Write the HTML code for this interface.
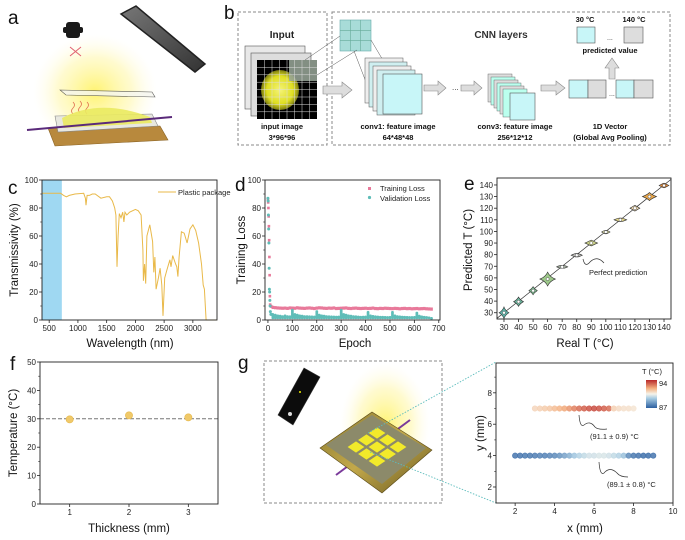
<!DOCTYPE html>
<html><head><meta charset="utf-8">
<style>
html,body{margin:0;padding:0;background:#fff;}
svg{display:block;font-family:"Liberation Sans",Arial,sans-serif;}
.tk{font-size:8px;fill:#222;}
.at{font-size:11.5px;fill:#111;}
.pl{font-size:19px;fill:#111;}
.sm{font-size:7.5px;fill:#222;}
.bd{font-size:7.5px;fill:#111;font-weight:bold;}
</style></head>
<body>
<svg id="fig" width="685" height="540" viewBox="0 0 685 540">
<defs>
<radialGradient id="glow" cx="50%" cy="50%" r="50%"><stop offset="0" stop-color="#fff36a" stop-opacity="0.95"/><stop offset="0.6" stop-color="#fff6a0" stop-opacity="0.5"/><stop offset="1" stop-color="#fffbe0" stop-opacity="0"/></radialGradient>
<radialGradient id="blob" cx="50%" cy="50%" r="50%"><stop offset="0" stop-color="#f4f37a"/><stop offset="0.7" stop-color="#dede20"/><stop offset="1" stop-color="#7a7a10"/></radialGradient>
<linearGradient id="cbar" x1="0" y1="1" x2="0" y2="0"><stop offset="0" stop-color="#2c5fa0"/><stop offset="0.35" stop-color="#a9cde3"/><stop offset="0.5" stop-color="#f5f3ea"/><stop offset="0.7" stop-color="#f4b080"/><stop offset="1" stop-color="#b8282a"/></linearGradient>
<linearGradient id="phone" x1="0" y1="0" x2="1" y2="1"><stop offset="0" stop-color="#777"/><stop offset="1" stop-color="#333"/></linearGradient>
<linearGradient id="gold" x1="0" y1="0" x2="1" y2="1"><stop offset="0" stop-color="#8a7a30"/><stop offset="0.5" stop-color="#c2a84a"/><stop offset="1" stop-color="#6a5a20"/></linearGradient>
</defs>

<!-- Panel a -->
<g>
<text class="pl" x="8" y="24">a</text>
<ellipse cx="95" cy="92" rx="62" ry="58" fill="url(#glow)"/>
<rect x="66" y="22" width="14" height="16" rx="3" fill="#1a1a1a"/>
<rect x="63" y="27" width="20" height="6" rx="2" fill="#1a1a1a"/>
<path d="M70 47 L81 56 M81 47 L70 56" stroke="#e06070" stroke-width="1"/>
<polygon points="121,14 136,6 205,64 195,72" fill="url(#phone)" stroke="#222" stroke-width="1.5"/>
<polygon points="60,90 152,92 155,97 66,95" fill="#f6f6f0" stroke="#333" stroke-width="0.6" opacity="0.8"/>
<path d="M73 102 q3 3 0 6 q-3 3 0 6 M80 101 q3 3 0 6 q-3 3 0 6 M87 102 q3 3 0 6 q-3 3 0 6" stroke="#e07050" fill="none" stroke-width="0.8"/>
<polygon points="48,128 160,126 168,140 55,146" fill="#b8893d" stroke="#8a6325" stroke-width="0.6"/>
<polygon points="55,116 152,114 158,126 58,132" fill="#e8e8e0" stroke="#888" stroke-width="0.6"/>
<path d="M62 118 Q100 98 150 117 L152 123 L64 128 Z" fill="#eaea60" opacity="0.9"/>
<line x1="27" y1="130" x2="172" y2="117" stroke="#5a2a7a" stroke-width="2"/>
</g>

<!-- Panel b -->
<g>
<text class="pl" x="224" y="19">b</text>
<rect x="238" y="12" width="89" height="133" fill="none" stroke="#888" stroke-dasharray="3,2"/>
<rect x="332" y="12" width="338" height="133" fill="none" stroke="#888" stroke-dasharray="3,2"/>
<text x="282" y="38" font-size="10" font-weight="bold" text-anchor="middle" fill="#222">Input</text>
<text x="501" y="38" font-size="10" font-weight="bold" text-anchor="middle" fill="#333">CNN layers</text>
<rect x="245" y="46" width="60" height="63" fill="#e8e8e8" stroke="#555" stroke-width="0.6"/>
<rect x="251" y="53" width="60" height="63" fill="#ddd" stroke="#555" stroke-width="0.6"/>
<g>
<rect x="257" y="60" width="60" height="59" fill="#000"/>
<ellipse cx="280" cy="90" rx="19" ry="20" fill="url(#blob)"/>
<rect x="289" y="60" width="28" height="21" fill="#9aa89a" opacity="0.85"/>
<path d="M264.5 60V119M272 60V119M279.5 60V119M287 60V119M294.5 60V119M302 60V119M309.5 60V119M257 67.4H317M257 74.8H317M257 82.2H317M257 89.6H317M257 97H317M257 104.4H317M257 111.8H317" stroke="#ddd" stroke-width="0.5"/>
</g>
<text class="bd" x="282" y="129" text-anchor="middle">input image</text>
<text class="bd" x="282" y="140" text-anchor="middle">3*96*96</text>
<rect x="340" y="20" width="31" height="31" fill="#a8dcd8" stroke="#6aa" stroke-width="0.6"/>
<path d="M350.3 20V51M360.6 20V51M340 30.3H371M340 40.6H371" stroke="#6a9" stroke-width="0.6"/>
<path d="M305 60 L340 36 M317 75 L357 50 M371 40 L384 62 M354 51 L366 82" stroke="#555" stroke-width="0.5" fill="none"/>
<g>
<rect x="365" y="58" width="38" height="45" fill="#eee" stroke="#555" stroke-width="0.5"/>
<rect x="369" y="62" width="38" height="45" fill="#cfeff0" stroke="#555" stroke-width="0.5"/>
<rect x="373" y="66" width="38" height="45" fill="#eee" stroke="#555" stroke-width="0.5"/>
<rect x="377" y="70" width="38" height="45" fill="#cfeff0" stroke="#555" stroke-width="0.5"/>
<rect x="383" y="74" width="39" height="40" fill="#c8f6f8" stroke="#555" stroke-width="0.6"/>
</g>
<text class="bd" x="398" y="129" text-anchor="middle">conv1: feature image</text>
<text class="bd" x="398" y="140" text-anchor="middle">64*48*48</text>
<g fill="#ddd" stroke="#888" stroke-width="0.6">
<polygon points="323,86 342,86 342,82 352,90 342,98 342,94 323,94"/>
<polygon points="424,85 438,85 438,81 446,88 438,95 438,91 424,91"/>
<polygon points="461,85 474,85 474,81 482,88 474,95 474,91 461,91"/>
<polygon points="541,85 556,85 556,81 565,88 556,95 556,91 541,91"/>
<polygon points="609,79 609,68 605,68 612,58 619,68 615,68 615,79"/>
</g>
<text x="452" y="90" font-size="8" fill="#333">...</text>
<g>
<rect x="488" y="74" width="24" height="28" fill="#ddd" stroke="#555" stroke-width="0.4"/>
<rect x="491" y="77" width="24" height="28" fill="#bfe" stroke="#555" stroke-width="0.4"/>
<rect x="494" y="80" width="24" height="28" fill="#ddd" stroke="#555" stroke-width="0.4"/>
<rect x="497" y="83" width="24" height="28" fill="#bfe" stroke="#555" stroke-width="0.4"/>
<rect x="500" y="86" width="24" height="28" fill="#ddd" stroke="#555" stroke-width="0.4"/>
<rect x="503" y="89" width="24" height="28" fill="#bfe" stroke="#555" stroke-width="0.4"/>
<rect x="510" y="93" width="25" height="27" fill="#c8f6f8" stroke="#555" stroke-width="0.6"/>
</g>
<text class="bd" x="515" y="129" text-anchor="middle">conv3: feature image</text>
<text class="bd" x="515" y="140" text-anchor="middle">256*12*12</text>
<g stroke="#555" stroke-width="0.6">
<rect x="569" y="80" width="19" height="18" fill="#c8f6f8"/>
<rect x="588" y="80" width="18" height="18" fill="#ddd"/>
<rect x="616" y="80" width="18" height="18" fill="#c8f6f8"/>
<rect x="634" y="80" width="19" height="18" fill="#ddd"/>
</g>
<text x="609" y="96" font-size="7" fill="#333">...</text>
<rect x="577" y="27" width="18" height="16" fill="#c8f6f8" stroke="#555" stroke-width="0.6"/>
<rect x="624" y="27" width="19" height="16" fill="#ddd" stroke="#555" stroke-width="0.6"/>
<text x="607" y="40" font-size="7" fill="#333">...</text>
<text class="bd" x="585" y="22" text-anchor="middle">30 °C</text>
<text class="bd" x="634" y="22" text-anchor="middle">140 °C</text>
<text class="bd" x="610" y="53" text-anchor="middle">predicted value</text>
<text class="bd" x="610" y="129" text-anchor="middle">1D Vector</text>
<text class="bd" x="610" y="140" text-anchor="middle">(Global Avg Pooling)</text>
</g>

<!-- Panel g left illustration -->
<g>
<text class="pl" x="238" y="369">g</text>
<rect x="264" y="361" width="178" height="142" fill="none" stroke="#888" stroke-dasharray="3,2"/>
<ellipse cx="385" cy="425" rx="45" ry="62" fill="url(#glow)"/>
<polygon points="278,415 304,368 320,377 293,425" fill="#0c0c0c" stroke="#333" stroke-width="0.6"/>
<circle cx="300" cy="392" r="1" fill="#ee0"/>
<circle cx="290" cy="414" r="2" fill="#ddd"/>
<line x1="336" y1="475" x2="410" y2="420" stroke="#7a3a9a" stroke-width="2"/>
<polygon points="320,448 372,412 432,450 382,493" fill="url(#gold)" stroke="#5a4a18" stroke-width="0.6"/>
<polygon points="326,445 372,415 426,448 382,484" fill="#8c8a6a"/>
<g id="chips" fill="#f2ea2a"></g>
<path d="M368 433 L496 362 M370 452 L496 503" stroke="#5bbcbc" stroke-width="0.9" stroke-dasharray="1.5,1.5" fill="none"/>
</g>

<!-- panel letters and axis titles -->
<text class="pl" x="8" y="194">c</text>
<text class="pl" x="235" y="191">d</text>
<text class="pl" x="464" y="190">e</text>
<text class="pl" x="10" y="370">f</text>
<text class="at" x="130" y="347" text-anchor="middle">Wavelength (nm)</text>
<text class="at" x="18" y="250" text-anchor="middle" transform="rotate(-90 18 250)">Transmissivity (%)</text>
<text class="at" x="355" y="347" text-anchor="middle">Epoch</text>
<text class="at" x="245" y="250" text-anchor="middle" transform="rotate(-90 245 250)">Training Loss</text>
<text class="at" x="585" y="347" text-anchor="middle">Real T (°C)</text>
<text class="at" x="472" y="250" text-anchor="middle" transform="rotate(-90 472 250)">Predicted T (°C)</text>
<text class="at" x="129" y="532" text-anchor="middle">Thickness (mm)</text>
<text class="at" x="17" y="433" text-anchor="middle" transform="rotate(-90 17 433)">Temperature (°C)</text>
<text class="at" x="585" y="532" text-anchor="middle">x (mm)</text>
<text class="at" x="484" y="433" text-anchor="middle" transform="rotate(-90 484 433)">y (mm)</text>
</svg>

<script>
// ---- Panel c data ----
const cWave = [380,700,750,800,850,950,1100,1130,1140,1160,1200,1250,1300,1400,1500,1550,1600,1640,1660,1680,1700,1720,1750,1780,1800,1820,1850,1900,2000,2050,2100,2130,2140,2160,2180,2200,2250,2300,2320,2340,2360,2400,2430,2460,2480,2510,2550,2600,2620,2650,2700,2720,2740,2760,2800,2850,2900,2950,3000,3050,3100,3150,3180,3200,3230,3415];
const cTrans = [90.5,90.5,89,88,89,90,90.5,87,82,89,89,90,90,87,88,88,85,80,75,38,60,76,73,77,70,77,75,77,79,78,75,50,28,40,26,60,68,56,34,45,22,30,37,25,3,30,36,43,38,46,40,38,31,45,63,62,55,65,68,64,55,40,25,22,0,0];
const cXTicks = [500,1000,1500,2000,2500,3000];
const cYTicks = [0,20,40,60,80,100];
// ---- Panel d data ----
const dEarlyEpoch = [0,1,2,3,4,5,6,7,8,9,10,12,15];
const dTrainEarly = [86,84,80,74,67,57,45,32,17,11,10,10,9.5];
const dValEarly = [87,85,75,65,55,37,22,20,14,10,6,4,4];
const dLateStart = 20, dLateStep = 10;
const dTrainLate = [9,8.8,8.6,8.5,8.4,8.5,8.3,8.6,8.5,8.4,8.7,8.5,8.4,8.3,8.5,8.6,8.4,8.2,8.5,8.7,8.6,8.4,8.3,8.5,8.4,8.6,8.2,8.3,8.4,8.5,8.6,8.3,8.2,8.4,8.5,8.3,8.2,8.3,8.4,8.2,8.3,8.5,8.2,8.1,8.3,8.2,8.4,8.3,8.2,8.1,8.3,8.2,8.0,8.2,8.3,8.1,8.2,8.0,8.1,8.2,8.0,8.1,8.2,8.0,7.9,7.8];
const dValLate = [4,3.5,3,2.8,2.5,3,2.5,2.4,7,4,3.5,3,2.8,2.5,2.5,2.4,2.3,2.2,6,3.5,3,2.8,2.5,2.4,2.3,2.2,2.1,2.2,7,4,3.5,3,2.8,2.5,2.4,2.2,2.0,2.1,2.2,5.5,3,2.6,2.4,2.2,2.0,2.0,1.9,1.8,1.9,5.5,3,2.5,2.3,2.1,2.0,1.9,1.8,1.8,1.9,5,2.8,2.3,2.0,1.8,1.6,1.2];
const dXTicks = [0,100,200,300,400,500,600,700];
const dYTicks = [0,20,40,60,80,100];
// ---- Panel e data ----
const eReal = [30,40,50,60,70,80,90,100,110,120,130,140];
const ePred = [30,39.5,49,59,69.5,79.5,90,99.5,110,120,130,139.5];
const eSpread = [10,8,7,12,2,3,5,3,3,5,7,4];
const eWidth = [3.5,3.5,3,5.5,4,4,4.5,3,4.5,3.5,5,3.5];
const eColors = ['#5fb3a8','#6fb8a0','#7dbb90','#9dc88a','#a8b4a4','#b4b4b0','#c9cf86','#d6d6a0','#e8da8a','#efd9b0','#e8a64a','#e38a3a'];
const eTicks = [30,40,50,60,70,80,90,100,110,120,130,140];
// ---- Panel f data ----
const fThick = [1,2,3];
const fTemp = [29.8,31.2,30.5];
const fRef = 30;
const fXTicks = [1,2,3];
const fYTicks = [0,10,20,30,40,50];
// ---- Panel g data ----
const gTopY = 7, gTopX0 = 3, gStep = 0.25;
const gTopT = [91.1,91.2,91.3,91.4,91.6,91.8,92,92.3,92.6,92.9,93.1,93.3,93.4,93.3,93.1,92.9,91.2,91,90.9,90.9,90.8];
const gBotY = 4, gBotX0 = 2;
const gBotT = [87.5,87.5,87.6,87.6,87.7,87.8,87.8,87.9,88,88.2,88.5,88.8,89.3,89.6,89.8,90,90,90.1,90.1,90,89.8,89.6,89.2,88,87.6,87.5,87.4,87.4,87.5];
const gXTicks = [2,4,6,8,10];
const gYTicks = [2,4,6,8];

const NS = 'http://www.w3.org/2000/svg';
const svg = document.getElementById('fig');
function mk(tag, attrs, parent) {
  const e = document.createElementNS(NS, tag);
  for (const k in attrs) e.setAttribute(k, attrs[k]);
  (parent || svg).appendChild(e);
  return e;
}
function lin(d0, d1, r0, r1) { return v => r0 + (v - d0) * (r1 - r0) / (d1 - d0); }

// LED chips grid on device
(function(){
  const chips = document.getElementById('chips');
  const c0 = [377, 447], u = [10.5, -7], v = [10.5, 7];
  for (let i = -1; i <= 1; i++) for (let j = -1; j <= 1; j++) {
    const cx = c0[0] + i * u[0] + j * v[0], cy = c0[1] + i * u[1] + j * v[1];
    const s = 0.4;
    const pts = [[-1,-1],[1,-1],[1,1],[-1,1]].map(([a,b]) => (cx + s*(a*u[0] + b*v[0])).toFixed(1) + ',' + (cy + s*(a*u[1] + b*v[1])).toFixed(1)).join(' ');
    const p = mk('polygon', {points: pts}, chips);
    
    
  }
})();

function axes(name, box, sx, sy, xt, yt, yMinor) {
  const g = mk('g', {});
  
  
  const frame = mk('rect', {x: box.l, y: box.t, width: box.r - box.l, height: box.b - box.t, fill: 'none', stroke: '#222', 'stroke-width': 0.9}, g);
  
  
  xt.forEach(v => {
    const x = sx(v);
    mk('line', {x1: x, x2: x, y1: box.b, y2: box.b + 3, stroke: '#222', 'stroke-width': 0.8}, g);
    const t = mk('text', {x: x, y: box.b + 11, 'text-anchor': 'middle', class: 'tk'}, g);
    t.textContent = v;
    
    
  });
  yt.forEach(v => {
    const y = sy(v);
    mk('line', {x1: box.l - 3, x2: box.l, y1: y, y2: y, stroke: '#222', 'stroke-width': 0.8}, g);
    const t = mk('text', {x: box.l - 4, y: y + 3, 'text-anchor': 'end', class: 'tk'}, g);
    t.textContent = v;
    
    
  });
  if (yMinor) yMinor.forEach(v => {
    mk('line', {x1: box.l - 1.8, x2: box.l, y1: sy(v), y2: sy(v), stroke: '#222', 'stroke-width': 0.6}, g);
  });
  return g;
}

// ---- Panel c ----
(function(){
  const box = {l: 42, r: 217, t: 180, b: 320};
  const sx = lin(375, 3420, box.l, box.r), sy = lin(0, 100, box.b, box.t);
  const band = mk('rect', {x: box.l, y: box.t, width: sx(720) - box.l, height: box.b - box.t, fill: '#9fd8f2'});
  
  
  const pts = cWave.map((w, i) => sx(w).toFixed(1) + ',' + sy(cTrans[i]).toFixed(1)).join(' ');
  const line = mk('polyline', {points: pts, fill: 'none', stroke: '#e9b949', 'stroke-width': 1});
  
  
  axes('c', box, sx, sy, cXTicks, cYTicks, [10,30,50,70,90]);
  const lg = mk('line', {x1: 158, x2: 176, y1: 192, y2: 192, stroke: '#e9b949', 'stroke-width': 1});
  
  
  const lt = mk('text', {x: 178, y: 195, class: 'sm'});
  lt.textContent = 'Plastic package';
  
  
})();

// ---- Panel d ----
(function(){
  const box = {l: 265, r: 440, t: 180, b: 320};
  const sx = lin(-12, 705, box.l, box.r), sy = lin(0, 100, box.b, box.t);
  const tr = mk('g', {fill: '#e8799a'});
  
  
  const va = mk('g', {fill: '#5fbdb8'});
  
  
  dEarlyEpoch.forEach((e, i) => {
    const p = mk('rect', {x: sx(e) - 1.3, y: sy(dTrainEarly[i]) - 1.3, width: 2.6, height: 2.6}, tr);
    
    
    const q = mk('circle', {cx: sx(e), cy: sy(dValEarly[i]), r: 1.5}, va);
    
    
  });
  dValLate.forEach((v, i) => {
    const e = dLateStart + i * dLateStep;
    const q = mk('rect', {x: sx(e) - 1.3, y: sy(v) - 1.3, width: 2.7, height: Math.max(2.6, sy(0.6) - sy(v) + 1.3), rx: 1}, va);
    
    
  });
  dTrainLate.forEach((v, i) => {
    const e = dLateStart + i * dLateStep;
    const p = mk('rect', {x: sx(e) - 1.3, y: sy(v) - 1.6, width: 2.7, height: 3.2}, tr);
    
    
  });
  axes('d', box, sx, sy, dXTicks, dYTicks, [10,30,50,70,90]);
  const l1 = mk('rect', {x: 368, y: 187, width: 3, height: 3, fill: '#e8799a'});
  
  
  const t1 = mk('text', {x: 380, y: 191, class: 'sm'});
  t1.textContent = 'Training Loss';
  
  
  const l2 = mk('circle', {cx: 369.5, cy: 197.5, r: 1.6, fill: '#5fbdb8'});
  
  
  const t2 = mk('text', {x: 380, y: 201, class: 'sm'});
  t2.textContent = 'Validation Loss';
  
  
})();

// ---- Panel e ----
(function(){
  const box = {l: 497, r: 671, t: 178, b: 319};
  const sx = lin(25.2, 144.8, box.l, box.r), sy = lin(24.6, 146, box.b, box.t);
  const diag = mk('line', {x1: box.l, y1: sy(25.2), x2: box.r, y2: sy(144.8), stroke: '#333', 'stroke-width': 0.7});
  
  
  eReal.forEach((r, i) => {
    const cx = sx(r), cy = sy(ePred[i]), h = sy(ePred[i] - eSpread[i] / 2) - cy, w = eWidth[i];
    const v = mk('path', {d: `M${cx} ${cy - h} Q${cx + w * 0.4} ${cy - 2} ${cx + w * 1.4} ${cy} Q${cx + w * 0.4} ${cy + 2} ${cx} ${cy + h} Q${cx - w * 0.4} ${cy + 2} ${cx - w * 1.4} ${cy} Q${cx - w * 0.4} ${cy - 2} ${cx} ${cy - h}Z`, fill: eColors[i], stroke: '#333', 'stroke-width': 0.6});
    
    
    const c = mk('circle', {cx: cx, cy: cy, r: 1.5, fill: '#fff', stroke: '#333', 'stroke-width': 0.4});
    
    
  });
  axes('e', box, sx, sy, eTicks, eTicks, null);
  const cur = mk('path', {d: 'M583 259 Q585 268 590 262 Q597 255 604 263', fill: 'none', stroke: '#333', 'stroke-width': 0.7});
  
  
  const t = mk('text', {x: 589, y: 275, class: 'sm'});
  t.textContent = 'Perfect prediction';
  
  
})();

// ---- Panel f ----
(function(){
  const box = {l: 40, r: 218, t: 362, b: 504};
  const sx = lin(0.5, 3.5, box.l, box.r), sy = lin(0, 50, box.b, box.t);
  const ref = mk('line', {x1: box.l, x2: box.r, y1: sy(fRef), y2: sy(fRef), stroke: '#777', 'stroke-width': 1, 'stroke-dasharray': '4,2'});
  
  
  fThick.forEach((th, i) => {
    const c = mk('circle', {cx: sx(th), cy: sy(fTemp[i]), r: 3.6, fill: '#f0c96a', stroke: '#e6b84a', 'stroke-width': 0.6});
    
    
  });
  axes('f', box, sx, sy, fXTicks, fYTicks, [5,15,25,35,45]);
})();

// ---- Panel g ----
(function(){
  const box = {l: 496, r: 673, t: 363, b: 503};
  const sx = lin(1.03, 10, box.l, box.r), sy = lin(0.98, 9.9, box.b, box.t);
  function cmap(t) {
    const s = Math.max(0, Math.min(1, (t - 87) / 7));
    const stops = [[0,[44,95,160]],[0.35,[169,205,227]],[0.5,[245,243,234]],[0.7,[244,176,128]],[1,[184,40,42]]];
    for (let k = 1; k < stops.length; k++) {
      if (s <= stops[k][0]) {
        const a = stops[k-1], b = stops[k], f = (s - a[0]) / (b[0] - a[0]);
        return 'rgb(' + a[1].map((c, j) => Math.round(c + (b[1][j] - c) * f)).join(',') + ')';
      }
    }
    return 'rgb(184,40,42)';
  }
  [[gTopT, gTopX0, gTopY, 'top'], [gBotT, gBotX0, gBotY, 'bottom']].forEach(([arr, x0, y, nm]) => {
    const row = mk('g', {});
    
    
    arr.forEach((t, i) => {
      const c = mk('circle', {cx: sx(x0 + i * gStep), cy: sy(y), r: 2.7, fill: cmap(t), 'fill-opacity': 0.85, stroke: cmap(t), 'stroke-width': 0.6}, row);
      
      
    });
  });
  axes('g', box, sx, sy, gXTicks, gYTicks, [3,5,7,9]);
  const cb = mk('rect', {x: 646, y: 380, width: 11, height: 28, fill: 'url(#cbar)'});
  
  
  const cbt = mk('text', {x: 642, y: 374, class: 'sm'});
  cbt.textContent = 'T (°C)';
  
  
  const c94 = mk('text', {x: 659, y: 386, class: 'sm'});
  c94.textContent = '94';
  
  
  const c87 = mk('text', {x: 659, y: 410, class: 'sm'});
  c87.textContent = '87';
  
  
  const p1 = mk('path', {d: 'M579 415 Q580 428 584 425 Q590 420 595 427 Q598 430 607 429', fill: 'none', stroke: '#333', 'stroke-width': 0.7});
  
  
  const a1 = mk('text', {x: 590, y: 439, class: 'sm'});
  a1.textContent = '(91.1 ± 0.9) °C';
  
  
  const p2 = mk('path', {d: 'M599 462 Q600 476 604 473 Q610 466 617 473 Q620 477 628 477', fill: 'none', stroke: '#333', 'stroke-width': 0.7});
  
  
  const a2 = mk('text', {x: 607, y: 487, class: 'sm'});
  a2.textContent = '(89.1 ± 0.8) °C';
  
  
})();
</script>
</body></html>
